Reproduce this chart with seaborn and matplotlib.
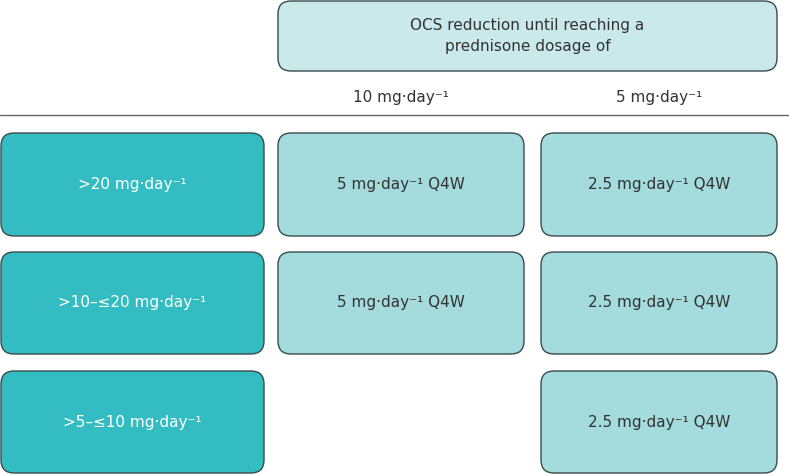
import matplotlib
matplotlib.use("Agg")
import matplotlib.pyplot as plt
from matplotlib.patches import FancyBboxPatch
import seaborn as sns

# данные
header_text = "OCS reduction until reaching a\nprednisone dosage of"
col_labels = ["10 mg·day⁻¹", "5 mg·day⁻¹"]
row_labels = [">20 mg·day⁻¹", ">10–≤20 mg·day⁻¹", ">5–≤10 mg·day⁻¹"]
cells = [
    ["5 mg·day⁻¹ Q4W", "2.5 mg·day⁻¹ Q4W"],
    ["5 mg·day⁻¹ Q4W", "2.5 mg·day⁻¹ Q4W"],
    [None, "2.5 mg·day⁻¹ Q4W"],
]

sns.set_theme(style="white")
plt.rcParams["font.family"] = ["DejaVu Sans"]

fig = plt.figure(figsize=(7.89, 4.74), dpi=100)
ax = fig.add_axes([0, 0, 1, 1])
ax.set_xlim(0, 789)
ax.set_ylim(474, 0)
ax.axis("off")

dark = "#33bdc3"
mid = "#a4dbdd"
light = "#cae9eb"
edge = "#3a4a4c"
txt = "#333333"

def box(x0, y0, x1, y1, color, text, tcolor):
    r = 13
    p = FancyBboxPatch((x0 + r, y0 + r), (x1 - x0) - 2 * r, (y1 - y0) - 2 * r,
                       boxstyle=f"round,pad={r},rounding_size={r}",
                       facecolor=color, edgecolor=edge, linewidth=1.0)
    ax.add_patch(p)
    ax.text((x0 + x1) / 2, (y0 + y1) / 2, text, ha="center", va="center",
            fontsize=11, color=tcolor, linespacing=1.55)

# шапка
box(278, 1, 777, 71, light, header_text, txt)
col_x = [(278, 524), (541, 777)]
for (x0, x1), lab in zip(col_x, col_labels):
    ax.text((x0 + x1) / 2, 97, lab, ha="center", va="center", fontsize=11, color=txt)
ax.plot([0, 789], [115, 115], color="#666666", lw=1.0)

rows_y = [(133, 236), (252, 354), (371, 473)]
for i, ((y0, y1), lab) in enumerate(zip(rows_y, row_labels)):
    box(1, y0, 264, y1, dark, lab, "white")
    for j, ((x0, x1), val) in enumerate(zip(col_x, cells[i])):
        if val is not None:
            box(x0, y0, x1, y1, mid, val, txt)

fig.savefig("out.png", dpi=100)
